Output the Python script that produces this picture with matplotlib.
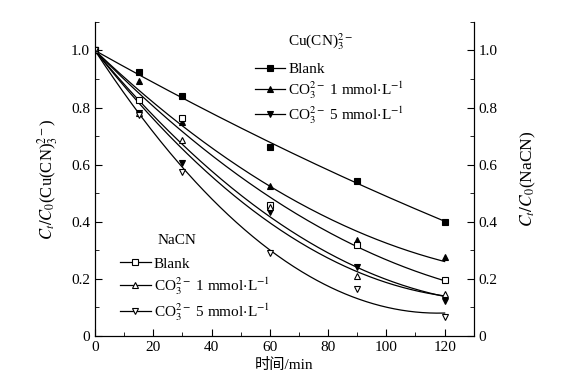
import numpy as np
import matplotlib
matplotlib.use("Agg")
import matplotlib.pyplot as plt
from matplotlib.lines import Line2D

plt.rcParams['font.family'] = ['Liberation Serif', 'Noto Sans CJK SC']
plt.rcParams['mathtext.fontset'] = 'stix'
plt.rcParams['font.size'] = 11

# time points (min)
t = [0, 15, 30, 60, 90, 120]

# Cu(CN)3 2- series (filled markers)
cu_blank = [1.0, 0.926, 0.839, 0.663, 0.544, 0.400]
cu_co3_1 = [1.0, 0.892, 0.750, 0.524, 0.335, 0.277]
cu_co3_5 = [1.0, 0.780, 0.607, 0.435, 0.243, 0.124]

# NaCN series (open markers)
na_blank = [1.0, 0.825, 0.762, 0.460, 0.317, 0.195]
na_co3_1 = [1.0, 0.780, 0.685, 0.450, 0.210, 0.147]
na_co3_5 = [1.0, 0.775, 0.575, 0.290, 0.165, 0.065]

xticks = [0, 20, 40, 60, 80, 100, 120]
yticks = [0, 0.2, 0.4, 0.6, 0.8, 1.0]
ytick_labels = ['0', '0.2', '0.4', '0.6', '0.8', '1.0']

lab_blank = 'Blank'
lab_1 = r'CO$_3^{2-}$ 1 mmol$\cdot$L$^{-1}$'
lab_5 = r'CO$_3^{2-}$ 5 mmol$\cdot$L$^{-1}$'


def fit_curve(x, y, xs):
    # least-squares quadratic through (0, 1), like the fitted curves
    x = np.asarray(x, float)
    y = np.asarray(y, float)
    A = np.column_stack([x, x**2])
    coef = np.linalg.lstsq(A, y - 1.0, rcond=None)[0]
    return 1.0 + coef[0] * xs + coef[1] * xs**2


fig = plt.figure(figsize=(5.62, 3.92), dpi=100)
ax = fig.add_axes([0.169, 0.143, 0.674, 0.801])

series = [
    (cu_blank, 's', 'black'),
    (cu_co3_1, '^', 'black'),
    (cu_co3_5, 'v', 'black'),
    (na_blank, 's', 'white'),
    (na_co3_1, '^', 'white'),
    (na_co3_5, 'v', 'white'),
]

tt = np.linspace(0, 120, 300)
for vals, mk, fc in series:
    ax.plot(tt, fit_curve(t, vals, tt), color='black', lw=0.9, zorder=2)
    ax.plot(t, vals, ls='none', marker=mk, ms=5, mfc=fc, mec='black',
            mew=0.8, zorder=3)

ax.set_xlim(0, 130)
ax.set_ylim(0, 1.1)
ax.set_xticks(xticks)
ax.set_xticks(np.arange(10, 130, 20), minor=True)
ax.set_yticks(yticks)
ax.set_yticklabels(ytick_labels)
ax.set_yticks(np.arange(0.1, 1.15, 0.2), minor=True)
ax.spines['top'].set_visible(False)
ax.tick_params(which='both', direction='in', top=False)
ax.tick_params(which='major', length=5)
ax.tick_params(which='minor', length=3)
ax.set_xlabel('时间/min', labelpad=3)
ax.set_ylabel(r'$C_t/C_0$(Cu(CN)$_3^{2-}$)', labelpad=8, fontsize=12)

ax2 = ax.twinx()
ax2.set_ylim(0, 1.1)
ax2.set_yticks(yticks)
ax2.set_yticklabels(ytick_labels)
ax2.set_yticks(np.arange(0.1, 1.15, 0.2), minor=True)
ax2.spines['top'].set_visible(False)
ax2.tick_params(which='both', direction='in')
ax2.tick_params(which='major', length=5)
ax2.tick_params(which='minor', length=3)
ax2.set_ylabel(r'$C_t/C_0$(NaCN)', labelpad=15, fontsize=12.5)


def handles(fc):
    return [Line2D([], [], color='black', lw=0.9, marker=m, ms=5, mfc=fc,
                   mec='black', mew=0.8) for m in ['s', '^', 'v']]


leg1 = ax2.legend(handles(fc='black'), [lab_blank, lab_1, lab_5],
                  loc='upper left', bbox_to_anchor=(0.422, 0.87),
                  frameon=False, handlelength=2.0, handletextpad=0.2,
                  labelspacing=0.2, borderaxespad=0, borderpad=0)
ax2.add_artist(leg1)
ax2.text(0.509, 0.936, r'Cu(CN)$_3^{2-}$', transform=ax.transAxes,
         ha='left', va='center')

leg2 = ax2.legend(handles(fc='white'), [lab_blank, lab_1, lab_5],
                  loc='upper left', bbox_to_anchor=(0.066, 0.251),
                  frameon=False, handlelength=2.0, handletextpad=0.2,
                  labelspacing=0.3, borderaxespad=0, borderpad=0)
ax2.text(0.164, 0.303, 'NaCN', transform=ax.transAxes,
         ha='left', va='center')

fig.savefig('out.png', dpi=100)
